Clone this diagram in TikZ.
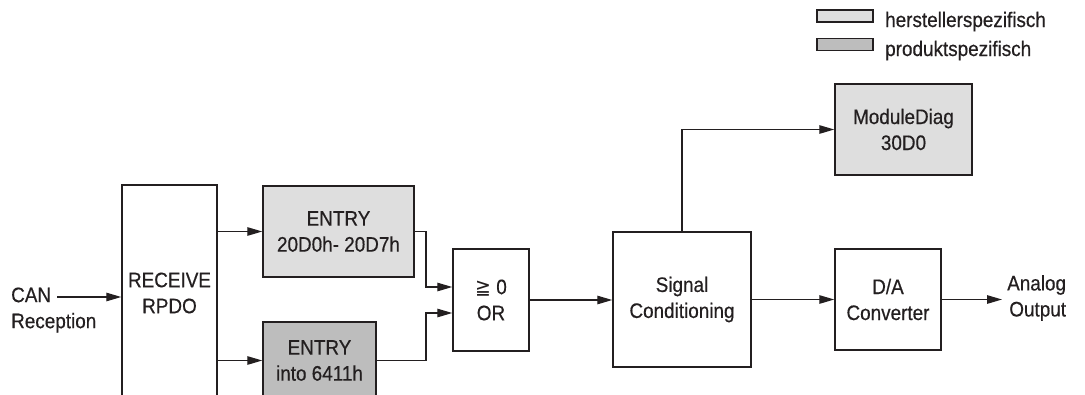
\documentclass[tikz,border=0pt]{standalone}
\usepackage{fontspec}
\setmainfont{Liberation Sans}[FakeStretch=0.9,FakeBold=0.5]
\newfontfamily\symfont{DejaVu Sans}[FakeStretch=0.9]
\usetikzlibrary{arrows.meta,calc}
\definecolor{lightfill}{HTML}{DEDEDE}
\definecolor{darkfill}{HTML}{BDBDBD}
\definecolor{ink}{HTML}{231F20}
\begin{document}
\begin{tikzpicture}[x=1pt,y=-1pt,
  box/.style={draw=ink, line width=1.5pt, inner sep=0pt, align=center, text=ink,
    font=\fontsize{21}{26}\selectfont},
  lbl/.style={inner sep=0pt, text=ink, font=\fontsize{21}{26}\selectfont},
  legbox/.style={draw=ink, line width=1.2pt, inner sep=0pt, minimum width=56pt, minimum height=12pt},
  conn/.style={draw=ink, line width=1.3pt},
  arr/.style={conn, -{Triangle[length=15pt,width=8.5pt]}}]
\useasboundingbox (0,0) rectangle (1085,394);
\clip (0,0) rectangle (1085,394);

% legend
\node[legbox, fill=lightfill] (l1) at (845,16) {};
\node[lbl, anchor=base west] (t1) at (885,27) {herstellerspezifisch};
\node[legbox, fill=darkfill] (l2) at (845,44.5) {};
\node[lbl, anchor=base west] (t2) at (885,56) {produktspezifisch};

% blocks
\node[box, minimum width=95pt, minimum height=216pt] (rpdo) at (169.5,293) {RECEIVE\\RPDO};
\node[box, fill=lightfill, minimum width=151pt, minimum height=91pt] (e1) at (338.5,231.5) {ENTRY\\20D0h- 20D7h};
\node[box, fill=darkfill, minimum width=113pt, minimum height=77pt] (e2) at (319.5,360.5) {ENTRY\\into 6411h};
\node[box, minimum width=76pt, minimum height=102pt] (or) at (491,300) {{\symfont ≧} 0\\OR};
\node[box, minimum width=138pt, minimum height=135pt] (sc) at (682,299.5) {Signal\\Conditioning};
\node[box, fill=lightfill, minimum width=137pt, minimum height=91pt] (md) at (903.5,129.5) {ModuleDiag\\30D0};
\node[box, minimum width=106pt, minimum height=101pt] (da) at (888,299.5) {D/A\\Converter};

% side labels
\node[lbl, anchor=west, align=left] (can) at (11,310) {CAN\\Reception};
\node[lbl, anchor=west, align=right] (out) at (1007,298) {Analog\\Output};

% coordinates
\coordinate (canin) at (57,297);
\coordinate (bend) at (426,0);
\coordinate (orin1) at ($(or.west)+(0,-13)$);
\coordinate (orin2) at ($(or.west)+(0,13)$);
\coordinate (aout) at (1002,299.5);

% connectors
\draw[arr] (canin) -- (canin -| rpdo.west);
\draw[arr] (rpdo.east |- e1.west) -- (e1.west);
\draw[arr] (rpdo.east |- e2.west) -- (e2.west);
\draw[arr] (e1.east) -- (bend |- e1.east) |- (orin1);
\draw[arr] (e2.east) -- (bend |- e2.east) |- (orin2);
\draw[arr] (or.east) -- (or.east -| sc.west);
\draw[arr] (sc.north) |- (md.west);
\draw[arr] (sc.east) -- (da.west);
\draw[arr] (da.east) -- (aout);
\end{tikzpicture}
\end{document}
